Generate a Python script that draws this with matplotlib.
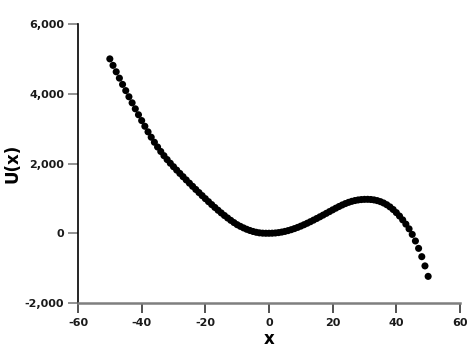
import matplotlib
matplotlib.use("Agg")
import matplotlib.pyplot as plt
from matplotlib.ticker import FuncFormatter

plt.rcParams["axes.unicode_minus"] = False

# === data ===
x_vals = list(range(-50, 51))
u_vals = [
    5000, 4814, 4630, 4448, 4268, 4090, 3914, 3740, 3568, 3398,   # -50 .. -41
    3231, 3068, 2908, 2754, 2609, 2473, 2345, 2225, 2113, 2008,   # -40 .. -31
    1908, 1811, 1716, 1622, 1529, 1437, 1346, 1256, 1167, 1079,   # -30 .. -21
    992, 906, 822, 740, 660, 583, 509, 438, 370, 306,             # -20 .. -11
    246, 198, 154, 114, 80, 51, 28, 12, 3, 0,                     # -10 .. -1
    0,                                                            # 0
    2, 8, 19, 34, 53, 76, 103, 134, 168, 205,                     # 1 .. 10
    245, 287, 331, 377, 424, 472, 521, 571, 621, 671,             # 11 .. 20
    720, 767, 811, 851, 886, 915, 938, 955, 966, 972,             # 21 .. 30
    973, 968, 956, 936, 907, 868, 818, 756, 681, 592,             # 31 .. 40
    494, 384, 262, 127, -33, -221, -433, -671, -936, -1236,       # 41 .. 50
]
x_ticks = [-60, -40, -20, 0, 20, 40, 60]
y_ticks = [-2000, 0, 2000, 4000, 6000]

fig = plt.figure(figsize=(4.71, 3.53), dpi=100)
ax = fig.add_axes([0.1656, 0.1416, 0.811, 0.7904])

ax.scatter(x_vals, u_vals, s=26, color="black", edgecolors="none", zorder=3)

ax.set_xlim(-60, 60)
ax.set_ylim(-2000, 6000)
ax.set_xticks(x_ticks)
ax.set_yticks(y_ticks)
ax.yaxis.set_major_formatter(FuncFormatter(lambda v, p: f"{int(v):,}"))

for side in ("top", "right"):
    ax.spines[side].set_visible(False)
ax.spines["left"].set_color("black")
ax.spines["left"].set_linewidth(1.2)
ax.spines["bottom"].set_color("#7f7f7f")
ax.spines["bottom"].set_linewidth(1.8)

ax.tick_params(axis="x", direction="out", length=7, width=1.2, color="#333333",
               labelsize=8, pad=4)
ax.tick_params(axis="y", direction="out", length=7, width=1.2, color="#7f7f7f",
               labelsize=8, pad=3)
for lbl in ax.get_xticklabels() + ax.get_yticklabels():
    lbl.set_fontweight("bold")
    lbl.set_color("#1a1a1a")

ax.set_xlabel("x", fontsize=12, fontweight="bold", labelpad=1)
ax.set_ylabel("U(x)", fontsize=12, fontweight="bold", labelpad=2)

fig.savefig("out.png", dpi=100)
